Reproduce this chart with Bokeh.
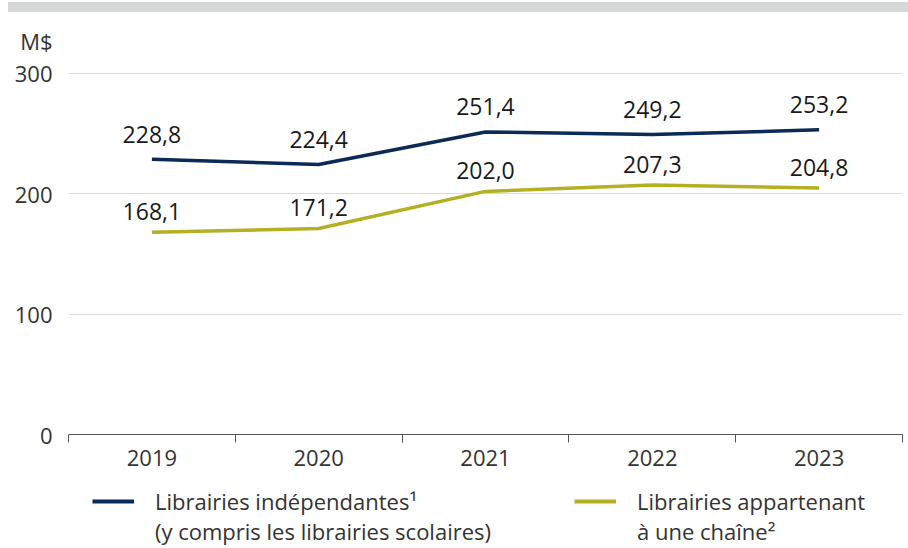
from bokeh.plotting import figure
from bokeh.models import (ColumnDataSource, LabelSet, Legend, LegendItem,
                          FixedTicker, Range1d, Div)
from bokeh.core.properties import value
from bokeh.layouts import column
from bokeh.embed import file_html
from bokeh.resources import INLINE

years = ["2019", "2020", "2021", "2022", "2023"]
independantes = [228.8, 224.4, 251.4, 249.2, 253.2]
chaines = [168.1, 171.2, 202.0, 207.3, 204.8]
y_ticks = [0, 100, 200, 300]
series_lines = [["Librairies indépendantes¹", "(y compris les librairies scolaires)"],
                ["Librairies appartenant", "à une chaîne²"]]
unit_label = "M$"

NAVY = "#0b2a55"
OLIVE = "#b4b023"
FONT = "Open Sans"
TXT = "#333333"
UNIT_POS = 327  # where the unit caption sits on the value axis


def fmt(v):
    return f"{v:.1f}".replace(".", ",")


xs = list(range(len(years)))
src1 = ColumnDataSource(dict(x=xs, y=independantes, t=[fmt(v) for v in independantes]))
src2 = ColumnDataSource(dict(x=xs, y=chaines, t=[fmt(v) for v in chaines]))

# ---------------- main chart ----------------
p = figure(width=908, height=472,
           x_range=Range1d(-0.5, len(years) - 0.5),
           y_range=Range1d(0, 340.7),
           output_backend="svg", toolbar_location=None,
           min_border_left=68, min_border_right=6, min_border_top=12,
           min_border_bottom=50)
p.outline_line_color = None
p.background_fill_color = "white"
p.border_fill_color = "white"

r1 = p.line("x", "y", source=src1, line_color=NAVY, line_width=3.5)
r2 = p.line("x", "y", source=src2, line_color=OLIVE, line_width=3.5)

lab_style = dict(text_font=value(FONT), text_font_size="23px", text_color="#1a1a1a",
                 text_align="center", text_baseline="middle")
p.add_layout(LabelSet(x="x", y="y", text="t", source=src1, y_offset=25, **lab_style))
p.add_layout(LabelSet(x="x", y="y", text="t", source=src2, y_offset=21, **lab_style))

xa = p.xaxis[0]
xa.ticker = FixedTicker(ticks=xs, minor_ticks=[i - 0.5 for i in range(len(years) + 1)])
xa.major_label_overrides = {i: y for i, y in enumerate(years)}
xa.major_tick_line_color = None
xa.major_tick_out = 0
xa.major_tick_in = 0
xa.minor_tick_line_color = "#555555"
xa.minor_tick_out = 8
xa.minor_tick_in = 0
xa.axis_line_color = "#555555"
xa.axis_line_width = 1.2
xa.major_label_standoff = 7
xa.major_label_text_font = FONT
xa.major_label_text_font_size = "22px"
xa.major_label_text_color = TXT

ya = p.yaxis[0]
ya.ticker = FixedTicker(ticks=y_ticks + [UNIT_POS])
ya.major_label_overrides = {UNIT_POS: unit_label}
ya.axis_line_color = None
ya.major_tick_line_color = None
ya.minor_tick_line_color = None
ya.major_tick_out = 0
ya.major_tick_in = 0
ya.major_label_standoff = 16
ya.major_label_text_font = FONT
ya.major_label_text_font_size = "22px"
ya.major_label_text_color = TXT

p.xgrid.visible = False
p.ygrid.ticker = FixedTicker(ticks=y_ticks[1:])
p.ygrid.grid_line_color = "#dcdcdc"
p.ygrid.grid_line_width = 1

# ---------------- legend strip ----------------
lf = figure(width=908, height=62, x_range=Range1d(0, 1), y_range=Range1d(0, 1),
            output_backend="svg", toolbar_location=None,
            x_axis_type=None, y_axis_type=None,
            min_border_left=0, min_border_right=0, min_border_top=0,
            min_border_bottom=0)
lf.outline_line_color = None
lf.xgrid.visible = False
lf.ygrid.visible = False
lf.background_fill_color = "white"
lf.border_fill_color = "white"

# legend samples (the data lies outside this strip's ranges, so only the
# legend swatches are visible)
g1 = lf.line("x", "y", source=src1, line_color=NAVY, line_width=4)
g2 = lf.line("x", "y", source=src2, line_color=OLIVE, line_width=4)
blank = lf.line("x", "y", source=src1, line_alpha=0)

leg_style = dict(orientation="vertical", glyph_width=42, label_standoff=21,
                 spacing=0, padding=0, margin=0, border_line_color=None,
                 background_fill_alpha=0, label_text_font=FONT,
                 label_text_font_size="22px", label_text_color=TXT)
leg1 = Legend(items=[LegendItem(label=series_lines[0][0], renderers=[g1]),
                     LegendItem(label=series_lines[0][1], renderers=[blank])],
              location=(24, 0), **leg_style)
leg2 = Legend(items=[LegendItem(label=series_lines[1][0], renderers=[g2]),
                     LegendItem(label=series_lines[1][1], renderers=[blank])],
              location=(506, 0), **leg_style)
lf.add_layout(leg1)
lf.add_layout(leg2)

bar = Div(text="", width=900, height=10, margin=(2, 0, 0, 8),
          styles={"background-color": "#d6d7d7"})

layout = column(bar, p, lf, spacing=0)

open("out.html", "w").write(file_html(layout, INLINE))
